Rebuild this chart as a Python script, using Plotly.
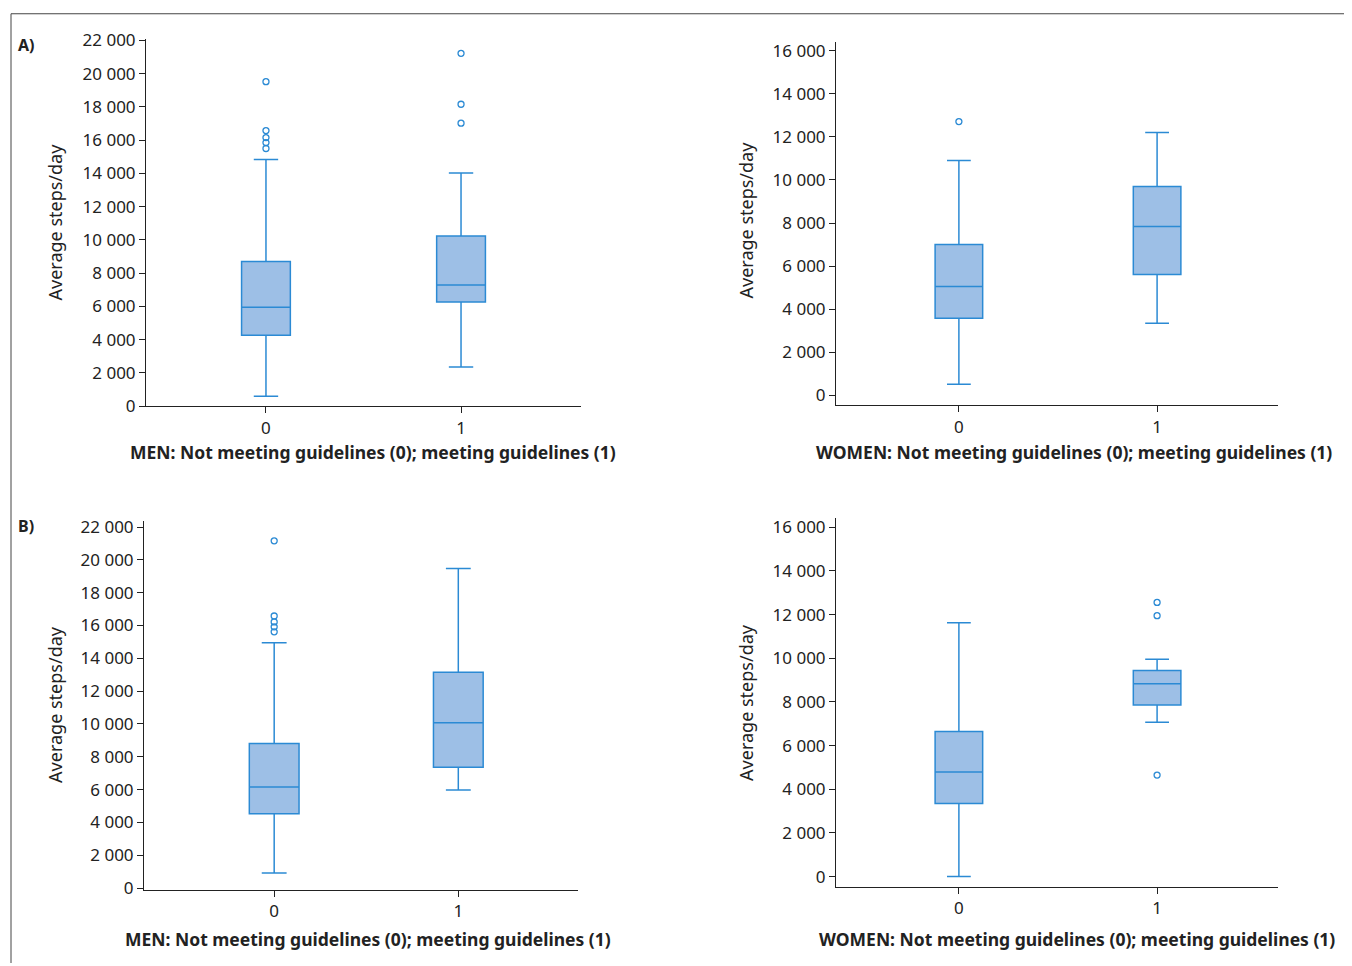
import plotly.graph_objects as go

W, H = 1352, 966
LINE = "#2b8ad4"
FILL = "#9dbfe6"

cats = [0, 1]
am_low = [600, 2360]; am_q1 = [4264, 6270]; am_med = [5946, 7290]; am_q3 = [8709, 10240]; am_high = [14835, 14020]
am_out = [[15500, 15856, 16156, 16577, 19520], [17020, 18160, 21220]]
aw_low = [517, 3344]; aw_q1 = [3576, 5616]; aw_med = [5060, 7841]; aw_q3 = [7007, 9696]; aw_high = [10900, 12200]
aw_out = [[12710], []]
bm_low = [916, 5976]; bm_q1 = [4530, 7361]; bm_med = [6157, 10072]; bm_q3 = [8807, 13145]; bm_high = [14950, 19470]
bm_out = [[15614, 15916, 16217, 16578, 21157], []]
bw_low = [0, 7070]; bw_q1 = [3349, 7860]; bw_med = [4790, 8837]; bw_q3 = [6651, 9442]; bw_high = [11628, 9953]
bw_out = [[], [12558, 11953, 4651]]

men_ticks = list(range(0, 22001, 2000))
women_ticks = list(range(0, 16001, 2000))
def fmt(v):
    return f"{v:,}".replace(",", " ")

def PX(r):
    return (r - 7) / W
def PY(r):
    return 1 - ((r - 16.25) / 0.9795) / H

panels = [
    dict(d=(am_low, am_q1, am_med, am_q3, am_high, am_out), xd=(145, 580), yd=(405, 37), xr=[-0.615, 1.615], yr=[0, 22100], ticks=men_ticks, w=0.25),
    dict(d=(aw_low, aw_q1, aw_med, aw_q3, aw_high, aw_out), xd=(835, 1277), yd=(404, 40), xr=[-0.62, 1.61], yr=[-460, 16420], ticks=women_ticks, w=0.24),
    dict(d=(bm_low, bm_q1, bm_med, bm_q3, bm_high, bm_out), xd=(143, 577), yd=(889, 520), xr=[-0.707, 1.65], yr=[-100, 22360], ticks=men_ticks, w=0.27),
    dict(d=(bw_low, bw_q1, bw_med, bw_q3, bw_high, bw_out), xd=(835, 1277), yd=(886, 517), xr=[-0.62, 1.61], yr=[-460, 16420], ticks=women_ticks, w=0.24),
]

fig = go.Figure()
font = "Noto Sans"
for i, p in enumerate(panels, start=1):
    lo, q1, me, q3, hi, out = p["d"]
    xa = "x" if i == 1 else f"x{i}"
    ya = "y" if i == 1 else f"y{i}"
    fig.add_trace(go.Box(x=cats, lowerfence=lo, q1=q1, median=me, q3=q3, upperfence=hi,
                         fillcolor=FILL, line=dict(color=LINE, width=1.5), width=p["w"],
                         whiskerwidth=0.5, boxpoints=False, xaxis=xa, yaxis=ya, showlegend=False))
    ox, oy = [], []
    for c, vals in zip(cats, out):
        for v in vals:
            ox.append(c); oy.append(v)
    fig.add_trace(go.Scatter(x=ox, y=oy, mode="markers", xaxis=xa, yaxis=ya, showlegend=False,
                             marker=dict(symbol="circle-open", size=6, color=LINE, line=dict(width=1.3))))
    kx = "xaxis" if i == 1 else f"xaxis{i}"
    ky = "yaxis" if i == 1 else f"yaxis{i}"
    fig.update_layout(**{
        kx: dict(domain=[PX(p["xd"][0]), PX(p["xd"][1])], range=p["xr"], anchor=ya,
                 tickvals=cats, ticktext=[str(c) for c in cats], showline=True, linecolor="#222",
                 ticks="outside", ticklen=6, tickcolor="#222", showgrid=False, zeroline=False,
                 tickfont=dict(size=17, color="#222", family=font)),
        ky: dict(domain=[PY(p["yd"][0]), PY(p["yd"][1])], range=p["yr"], anchor=xa,
                 tickvals=p["ticks"], ticktext=[fmt(t) for t in p["ticks"]], showline=True, linecolor="#222",
                 ticks="outside", ticklen=6, tickcolor="#222", showgrid=False, zeroline=False,
                 tickfont=dict(size=17, color="#222", family=font)),
    })

ann = []
def A(x, y, t, **k):
    ann.append(dict(x=PX(x), y=PY(y), xref="paper", yref="paper", text=t, showarrow=False,
                    xanchor="center", yanchor="middle",
                    font=dict(family=font, size=k.pop("size", 17.5), color="#222"), **k))
A(372, 451, "<b>MEN: Not meeting guidelines (0); meeting guidelines (1)</b>")
A(1073, 451, "<b>WOMEN: Not meeting guidelines (0); meeting guidelines (1)</b>")
A(367, 938, "<b>MEN: Not meeting guidelines (0); meeting guidelines (1)</b>")
A(1076, 938, "<b>WOMEN: Not meeting guidelines (0); meeting guidelines (1)</b>")
A(54, 220, "Average steps/day", textangle=-90, size=18)
A(745, 218, "Average steps/day", textangle=-90, size=18)
A(54, 703, "Average steps/day", textangle=-90, size=18)
A(745, 701, "Average steps/day", textangle=-90, size=18)
A(25, 43, "<b>A)</b>", size=16)
A(25, 525, "<b>B)</b>", size=16)

fig.update_layout(width=W, height=H, margin=dict(l=0, r=0, t=0, b=0), paper_bgcolor="white",
                  plot_bgcolor="white", annotations=ann,
                  shapes=[dict(type="line", xref="paper", yref="paper", x0=PX(10), x1=1, y0=PY(12), y1=PY(12), line=dict(color="#444", width=1)),
                          dict(type="line", xref="paper", yref="paper", x0=PX(10), x1=PX(10), y0=0, y1=PY(12), line=dict(color="#444", width=1))])
fig.write_html("out.html")
